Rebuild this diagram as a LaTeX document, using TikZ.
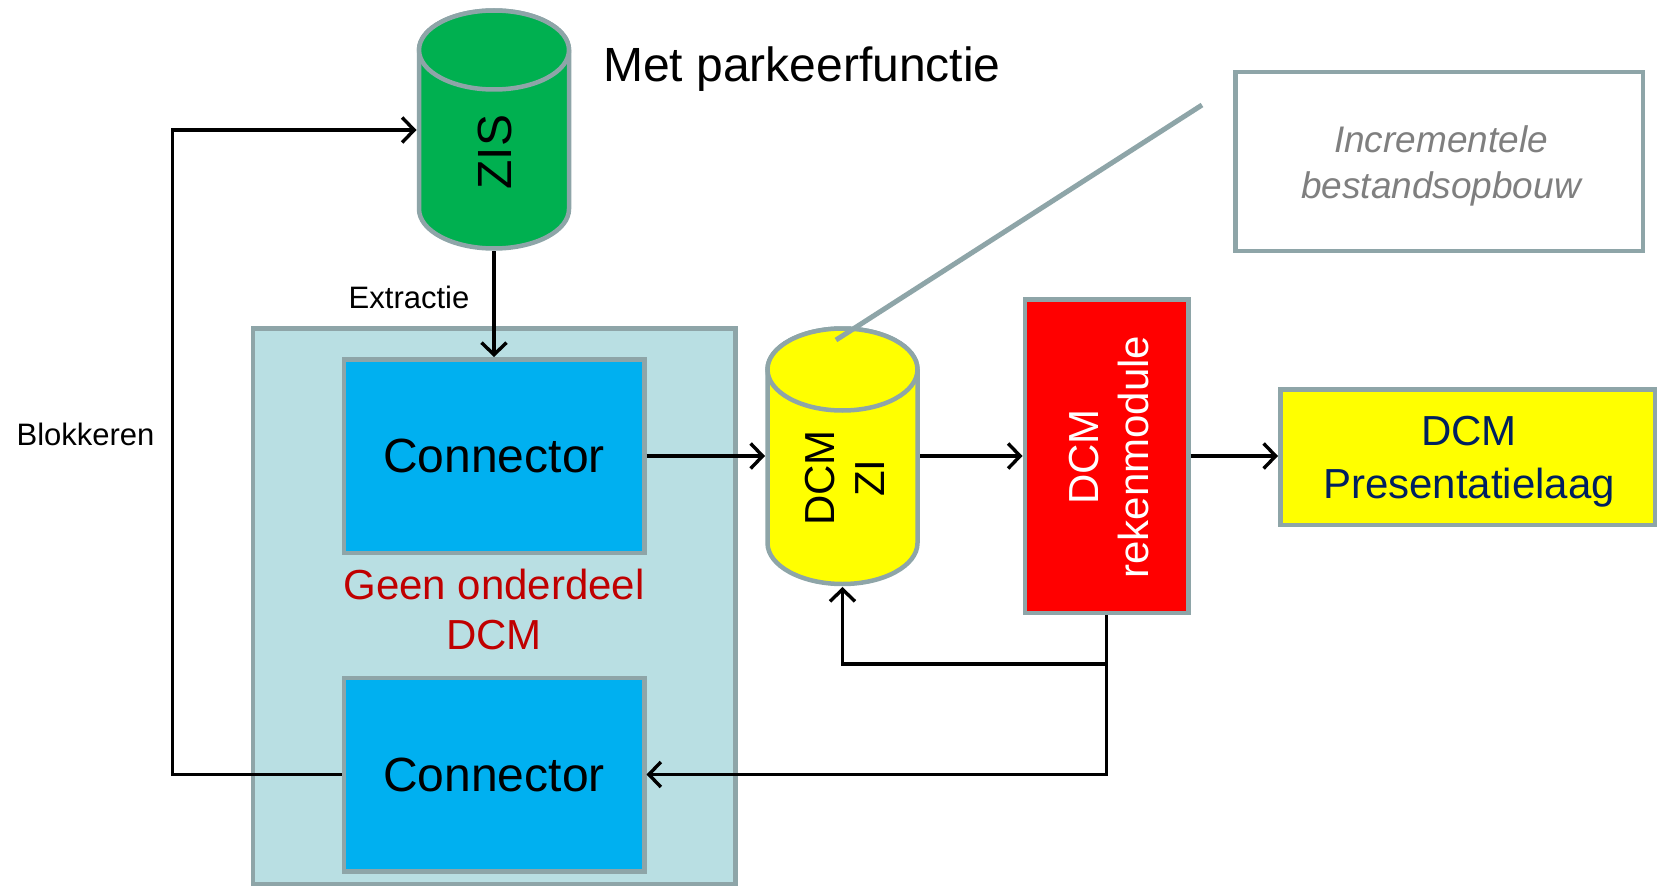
\documentclass[tikz,border=0pt]{standalone}
\usepackage{fontspec}
\setmainfont{Liberation Sans}
\usetikzlibrary{arrows.meta}
\definecolor{bordergray}{HTML}{8EA5A8}
\definecolor{contfill}{HTML}{B9DFE3}
\definecolor{connfill}{HTML}{00B0F0}
\definecolor{zisgreen}{HTML}{00B050}
\definecolor{navytext}{HTML}{002060}
\definecolor{graytext}{HTML}{7F7F7F}
\definecolor{darkredtext}{HTML}{C00000}
\definecolor{brightyellow}{RGB}{255,255,0}
\tikzset{
  fsbig/.style={font=\fontsize{48}{57.6}\selectfont},
  fsmid/.style={font=\fontsize{42}{50.5}\selectfont},
  fssmall/.style={font=\fontsize{31}{37}\selectfont},
  boxbase/.style={draw=bordergray, line width=4.5, inner sep=0pt, outer sep=2.25pt},
  connbox/.style={boxbase, fill=connfill, minimum width=300.5, minimum height=193.5, fsbig},
  helper/.style={inner sep=0pt, outer sep=0pt},
  cylline/.style={draw=bordergray, line width=4.5},
  arr/.style={draw=black, line width=3.4, -{Straight Barb[length=12pt,width=25pt]}},
  callout/.style={draw=bordergray, line width=5},
}
\begin{document}
\begin{tikzpicture}[x=1pt, y=-1pt]
\path[use as bounding box, fill=white] (0,0) rectangle (1658,888);

% container
\node[boxbase, fill=contfill, minimum width=482.5, minimum height=555.5] (cont) at (494,606) {};
\node[connbox] (c1) at (494,456) {Connector};
\node[connbox] (c2) at (494,774.5) {Connector};
\node[fsmid, text=darkredtext, align=center, inner sep=0pt] (geen) at (494,609.5) {Geen onderdeel\\DCM};

% ZIS cylinder
\filldraw[cylline, fill=zisgreen] (419,50) -- (419,209) arc[start angle=180, end angle=0, x radius=75, y radius=39.5] -- (569,50) arc[start angle=0, end angle=-180, x radius=75, y radius=39.5] -- cycle;
\filldraw[cylline, fill=zisgreen] (494,50) ellipse[x radius=75, y radius=39.5];
\node[helper, minimum width=155, minimum height=242] (zis) at (494,130) {};
\node[fsbig, rotate=90, inner sep=0pt] (zistext) at (494.5,152) {ZIS};

% DCM ZI cylinder
\filldraw[cylline, fill=brightyellow] (767.5,369.5) -- (767.5,543) arc[start angle=180, end angle=0, x radius=75, y radius=41] -- (917.5,369.5) arc[start angle=0, end angle=-180, x radius=75, y radius=41] -- cycle;
\filldraw[cylline, fill=brightyellow] (842.5,369.5) ellipse[x radius=75, y radius=41];
\node[helper, minimum width=155, minimum height=261] (dcm) at (842.5,456.5) {};
\node[fsmid, rotate=90, align=center, inner sep=0pt] (dcmtext) at (845,478) {DCM\\ZI};

% red rekenmodule
\node[boxbase, fill=red, minimum width=163.5, minimum height=313.5] (red) at (1106.5,456) {};
\node[rotate=90, align=center, inner sep=0pt, text=white, font=\fontsize{42}{50}\selectfont] (redtext) at (1109,457) {DCM\\rekenmodule};

% yellow presentatielaag
\node[boxbase, fill=brightyellow, minimum width=374.5, minimum height=135.5] (pres) at (1467.5,457) {};
\node[text=navytext, align=center, inner sep=0pt, font=\fontsize{42}{53}\selectfont] (prestext) at (1469,462) {DCM\\Presentatielaag};

% incrementele box
\node[boxbase, fill=white, minimum width=407.5, minimum height=178.5] (incr) at (1439,161.5) {};
\node[text=graytext, align=center, inner sep=0pt, font=\fontsize{37}{46}\selectfont\itshape] (incrtext) at (1441,166) {Incrementele\\bestandsopbouw};

% labels
\node[fsbig, anchor=west, inner sep=0pt] (met) at (603,69) {Met parkeerfunctie};
\node[fssmall, inner sep=0pt] (extr) at (409,297) {Extractie};
\node[fssmall, inner sep=0pt] (blok) at (85.5,434) {Blokkeren};

% callout line
\coordinate (callA) at (1202,105);
\coordinate (callB) at (836,340);
\draw[callout] (callA) -- (callB);

% connectors
\draw[arr] (c2.west) -| ([xshift=-244pt]zis.west) -- (zis.west);
\draw[arr] (zis.south) -- (c1.north);
\draw[arr] (c1.east) -- (c1.east -| dcm.west);
\draw[arr] (dcm.east |- red.west) -- (red.west);
\draw[arr] (red.east) -- (red.east -| pres.west);
\draw[arr] (red.south) |- (c2.east);
\draw[arr] ([yshift=-49pt]red.south) -| (dcm.south);
\end{tikzpicture}
\end{document}
